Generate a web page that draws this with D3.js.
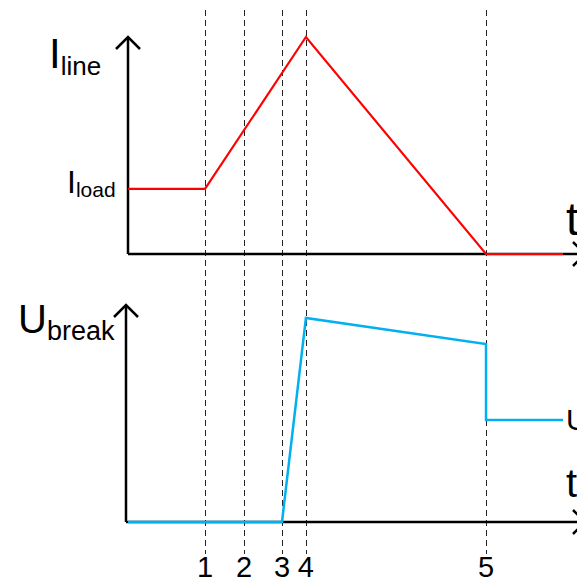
<!DOCTYPE html>
<html>
<head>
<meta charset="utf-8">
<script src="https://cdn.jsdelivr.net/npm/d3@7"></script>
<style>
  html, body { margin: 0; padding: 0; background: #fff; overflow: hidden; }
  text { font-family: "Liberation Sans", Arial, sans-serif; fill: #000; }
</style>
</head>
<body>
<div id="canvas"></div>
<script>
// DATA (time in arbitrary units 0..100, signal levels 0..100)
const markerTimes = [17.7, 26.7, 35.4, 40.9, 82.3];
const markerLabels = ["1", "2", "3", "4", "5"];

const lineTime  = [0, 17.7, 40.9, 82.3, 100];
const lineValue = [30, 30, 100, 0, 0];

const breakTime  = [0, 35.4, 40.9, 82.3, 82.3, 100];
const breakValue = [0, 0, 94, 82, 47, 47];

// DIMENSIONS
const width = 577;
const height = 579;

const canvas = d3.select("#canvas")
  .append("svg")
  .attr("width", width)
  .attr("height", height);

// SCALES
const x = d3.scaleLinear().domain([0, 100]).range([128, 563]);
const yTop = d3.scaleLinear().domain([0, 100]).range([254, 37]);
const yBot = d3.scaleLinear().domain([0, 100]).range([522, 305]);

// DASHED MARKERS (snapped to pixel centres so they stay crisp)
canvas.selectAll("line.marker")
  .data(markerTimes)
  .join("line")
  .attr("class", "marker")
  .attr("x1", d => Math.round(x(d)) + 0.5).attr("x2", d => Math.round(x(d)) + 0.5)
  .attr("y1", 10).attr("y2", 554)
  .style("stroke", "#222")
  .style("stroke-width", 1)
  .style("stroke-dasharray", "6,4");

canvas.selectAll("text.mlabel")
  .data(markerTimes)
  .join("text")
  .attr("class", "mlabel")
  .attr("x", d => x(d))
  .attr("y", 577)
  .attr("text-anchor", "middle")
  .style("font-size", "29px")
  .text((d, i) => markerLabels[i]);

// AXES (arrows)
function axis(x0, yBase, yTip, xEnd) {
  const g = canvas.append("g")
    .style("fill", "none")
    .style("stroke", "#000")
    .style("stroke-width", 2.5);
  g.append("path").attr("d", `M${x0},${yBase}V${yTip}`);
  g.append("path").attr("d", `M${x0 - 12},${yTip + 12}L${x0},${yTip}L${x0 + 12},${yTip + 12}`);
  g.append("path").attr("d", `M${x0},${yBase}H${xEnd}`);
  g.append("path").attr("d", `M${xEnd - 12},${yBase - 12}L${xEnd},${yBase}L${xEnd - 12},${yBase + 12}`);
}
axis(128, 254, 37, 585);
axis(126, 522, 305, 585);

// SERIES
const lineGen = d3.line();

canvas.append("path")
  .attr("d", lineGen(lineTime.map((t, i) => [x(t), yTop(lineValue[i])])))
  .style("fill", "none")
  .style("stroke", "#ff0000")
  .style("stroke-width", 2.2);

canvas.append("path")
  .attr("d", lineGen(breakTime.map((t, i) => [x(t), yBot(breakValue[i])])))
  .style("fill", "none")
  .style("stroke", "#00b0f0")
  .style("stroke-width", 2.5);

// LABELS
const lbl = (tx, ty, main, sub, mainSize, subSize, subDy) => {
  const t = canvas.append("text").attr("x", tx).attr("y", ty);
  t.append("tspan").style("font-size", mainSize + "px").text(main);
  if (sub) t.append("tspan").attr("dy", subDy).style("font-size", subSize + "px").text(sub);
};

lbl(49, 68, "I", "line", 42, 26, 7);
lbl(67, 193, "I", "load", 32, 21, 4);
lbl(18, 333, "U", "break", 40, 27, 7);

canvas.append("text").attr("x", 566).attr("y", 235).style("font-size", "46px").text("t");
canvas.append("text").attr("x", 566).attr("y", 497).style("font-size", "40px").text("t");
canvas.append("text").attr("x", 566).attr("y", 430).style("font-size", "30px").text("U");
</script>
</body>
</html>
